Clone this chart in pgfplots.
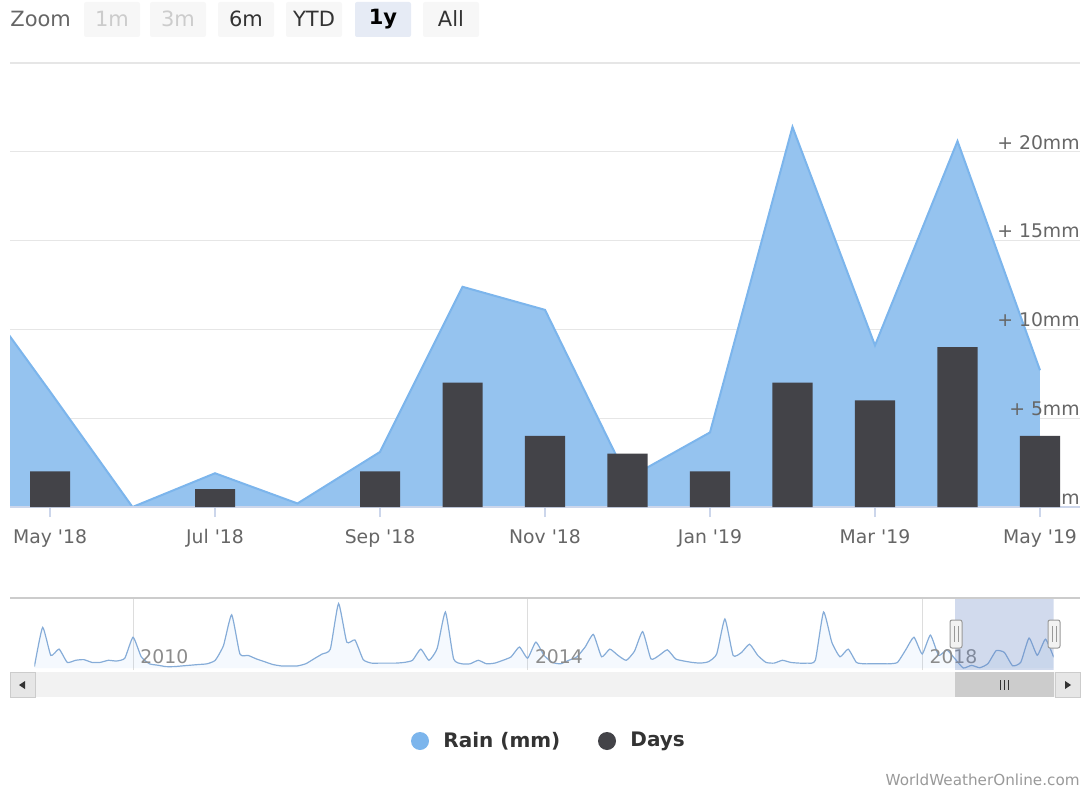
\documentclass[border=0pt]{standalone}
\usepackage{pgfplots}
\pgfplotsset{compat=1.18}
\usepackage{pgfplotstable}
\usepackage{fontspec}
\setmainfont{DejaVu Sans}
\definecolor{rainfill}{HTML}{95C3EF}
\definecolor{rainline}{HTML}{7CB5EC}
\definecolor{days}{HTML}{434348}
\definecolor{gridc}{HTML}{E6E6E6}
\definecolor{axisc}{HTML}{CCD6EB}
\definecolor{labc}{HTML}{666666}
\definecolor{navline}{HTML}{86ACD8}
\definecolor{navgrid}{HTML}{DDDDDD}
\definecolor{navlab}{HTML}{8C8C8C}
\definecolor{maskc}{RGB}{102,133,194}
\definecolor{btnbg}{HTML}{F7F7F7}
\definecolor{btnsel}{HTML}{E6EBF5}
\definecolor{btndis}{HTML}{CCCCCC}
\definecolor{btntxt}{HTML}{333333}
\definecolor{track}{HTML}{F2F2F2}
\definecolor{sbtn}{HTML}{E6E6E6}
\definecolor{thumb}{HTML}{CCCCCC}
\definecolor{outl}{HTML}{CCCCCC}
\definecolor{handle}{HTML}{999999}
\definecolor{credit}{HTML}{999999}
\newcommand{\q}{\textquotesingle}

% Rain (mm), monthly; x = months from May 2018 (Apr 2018 = -1)
\pgfplotstableread{
x y
-1 12.9
0 6.5
1 0
2 1.9
3 0.2
4 3.1
5 12.4
6 11.1
7 1.6
8 4.2
9 21.4
10 9.1
11 20.6
12 7.7
}\raindata

% Rain days
\pgfplotstableread{
x y
0 2
2 1
4 2
5 7
6 4
7 3
8 2
9 7
10 6
11 9
12 4
}\daysdata

% Navigator: rain (mm) monthly from Jan 2009 (m=0) to May 2019 (m=124)
\pgfplotstableread{
x y
0 1
1 29
2 9
3 13.5
4 4
5 5.5
6 6
7 4
8 4
9 5.5
10 5
11 7
12 22
13 8
14 3
15 2
16 1
17 1
18 1.5
19 2
20 2.5
21 3
22 5.5
23 16
24 38
25 10
26 9
27 6.5
28 4.5
29 2.5
30 1.5
31 1.5
32 1.5
33 3
34 6.5
35 10
36 13.5
37 46
38 18.5
39 20
40 6
41 3.5
42 3.5
43 3.5
44 3.5
45 4
46 5.5
47 13.5
48 5.5
49 14
50 40
51 6.5
52 3
53 3
54 5.5
55 3
56 3.5
57 5.5
58 8
59 15
60 7
61 18.5
62 9
63 4
64 3
65 5.5
66 8
67 15
68 24
69 8
70 13.5
71 9
72 5.5
73 12
74 26
75 6.5
76 9
77 13
78 6.5
79 5
80 4
81 3.5
82 4.5
83 10
84 35
85 9
86 11
87 17
88 9
89 4
90 3.5
91 5.5
92 4
93 3.5
94 3.5
95 5.5
96 40
97 18.5
98 8
99 13.5
100 4
101 3
102 3
103 3
104 3
105 4
106 13
107 22
108 10
109 23.5
110 9
111 12.9
112 6.5
113 0
114 1.9
115 0.2
116 3.1
117 12.4
118 11.1
119 1.6
120 4.2
121 21.4
122 9.1
123 20.6
124 7.7
}\navdata

\begin{document}
\begin{tikzpicture}

% ---------------- main chart ----------------
\begin{axis}[
  set layers, clip mode=individual,
  at={(5pt,-253.5pt)}, anchor=south west,
  scale only axis, width=535pt, height=222pt,
  xmin=-0.485, xmax=12.485, ymin=0, ymax=25,
  axis x line*=bottom, axis y line*=right,
  x axis line style={draw=axisc, line width=0.6pt, -},
  y axis line style={draw=none},
  xtick={0,2,...,12},
  xticklabels={May \q18, Jul \q18, Sep \q18, Nov \q18, Jan \q19, Mar \q19, May \q19},
  ytick={0,5,10,15,20,25},
  yticklabels={0mm,+ 5mm,+ 10mm,+ 15mm,+ 20mm,{}},
  ymajorgrids, major grid style={draw=gridc, line width=0.6pt},
  tick align=outside, major tick length=5pt,
  every x tick/.style={draw=axisc, line width=0.6pt},
  every y tick/.style={draw=none},
  xticklabel style={font=\fontsize{9.4}{11}\selectfont, text=labc, yshift=-2.5pt},
  yticklabel style={font=\fontsize{9.4}{11}\selectfont, text=labc, anchor=south east, inner sep=1pt, xshift=-4pt},
]
\addplot[on layer=axis ticks, fill=rainfill, draw=none] table {\raindata} \closedcycle;
\addplot[on layer=axis ticks, draw=rainline, line width=1pt] table {\raindata};
\addplot[ybar, bar width=0.485, bar shift=0pt, fill=days, draw=none] table {\daysdata};
\end{axis}

% ---------------- navigator ----------------
\begin{axis}[
  at={(17.2pt,-335pt)}, anchor=south west,
  scale only axis, width=509.65pt, height=36pt,
  xmin=0, xmax=124, ymin=-1.43, ymax=50,
  hide axis,
]
\draw[navgrid, line width=0.5pt] (axis cs:12,-1.43) -- (axis cs:12,50);
\draw[navgrid, line width=0.5pt] (axis cs:60,-1.43) -- (axis cs:60,50);
\draw[navgrid, line width=0.5pt] (axis cs:108,-1.43) -- (axis cs:108,50);
\addplot[fill=rainline, fill opacity=0.08, draw=none, smooth, tension=0.3] table {\navdata} \closedcycle;
\addplot[draw=navline, line width=0.6pt, smooth, tension=0.3] table {\navdata};
\node[anchor=west, inner sep=0pt, font=\fontsize{9.4}{11}\selectfont, text=navlab] at (axis cs:12.85,7.9) {2010};
\node[anchor=west, inner sep=0pt, font=\fontsize{9.4}{11}\selectfont, text=navlab] at (axis cs:60.85,7.9) {2014};
\node[anchor=west, inner sep=0pt, font=\fontsize{9.4}{11}\selectfont, text=navlab] at (axis cs:108.85,7.9) {2018};
\fill[maskc, fill opacity=0.3] (axis cs:112,-1.43) rectangle (axis cs:124,50);
\end{axis}

% ---------------- decorations in pixel units ----------------
\begin{scope}[x=0.5pt, y=-0.5pt]
  % zoom buttons
  \node[anchor=west, inner sep=0pt, font=\fontsize{10.5}{12}\selectfont, text=labc] at (10,19) {Zoom};
  \fill[btnbg, rounded corners=1pt] (84,2) rectangle (140,37);
  \node[font=\fontsize{10.5}{12}\selectfont, text=btndis] at (112,19) {1m};
  \fill[btnbg, rounded corners=1pt] (150,2) rectangle (206,37);
  \node[font=\fontsize{10.5}{12}\selectfont, text=btndis] at (178,19) {3m};
  \fill[btnbg, rounded corners=1pt] (218,2) rectangle (274,37);
  \node[font=\fontsize{10.5}{12}\selectfont, text=btntxt] at (246,19) {6m};
  \fill[btnbg, rounded corners=1pt] (286,2) rectangle (342,37);
  \node[font=\fontsize{10.5}{12}\selectfont, text=btntxt] at (314,19) {YTD};
  \fill[btnsel, rounded corners=1pt] (355,2) rectangle (411,37);
  \node[font=\bfseries\fontsize{10.5}{12}\selectfont, text=black] at (383,19) {1y};
  \fill[btnbg, rounded corners=1pt] (423,2) rectangle (479,37);
  \node[font=\fontsize{10.5}{12}\selectfont, text=btntxt] at (451,19) {All};

  % navigator outline
  \draw[outl, line width=0.8pt] (10,598) -- (1080,598);

  % scrollbar
  \fill[track] (10,672) rectangle (1080,697);
  \draw[outl, fill=sbtn, line width=0.4pt] (10,672) rectangle (35,697);
  \draw[outl, fill=sbtn, line width=0.4pt] (1055,672) rectangle (1080,697);
  \fill[btntxt] (19,685) -- (25,681) -- (25,689) -- cycle;
  \fill[btntxt] (1071,685) -- (1065,681) -- (1065,689) -- cycle;
  \fill[thumb] (955,672) rectangle (1054,697);
  \draw[btntxt, line width=0.5pt] (1000,680) -- (1000,690) (1004,680) -- (1004,690) (1008,680) -- (1008,690);

  % handles
  \foreach \hx in {956,1054} {
    \draw[fill=track, draw=handle, line width=0.5pt, rounded corners=1pt] (\hx-6,620) rectangle (\hx+6,648);
    \draw[handle, line width=0.5pt] (\hx-2,626) -- (\hx-2,642) (\hx+2,626) -- (\hx+2,642);
  }

  % legend
  \fill[rainline] (420,741) circle[radius=9];
  \node[anchor=west, inner sep=0pt, font=\bfseries\fontsize{10}{12}\selectfont, text=btntxt] at (443,741) {Rain (mm)};
  \fill[days] (607,741) circle[radius=9];
  \node[anchor=west, inner sep=0pt, font=\bfseries\fontsize{10}{12}\selectfont, text=btntxt] at (630,741) {Days};

  % credits
  \node[anchor=east, inner sep=0pt, font=\fontsize{7.6}{9}\selectfont, text=credit] at (1080,780) {WorldWeatherOnline.com};
\end{scope}

\pgfresetboundingbox
\path[use as bounding box] (0,0) rectangle (543.5pt,-395.5pt);
\end{tikzpicture}
\end{document}
